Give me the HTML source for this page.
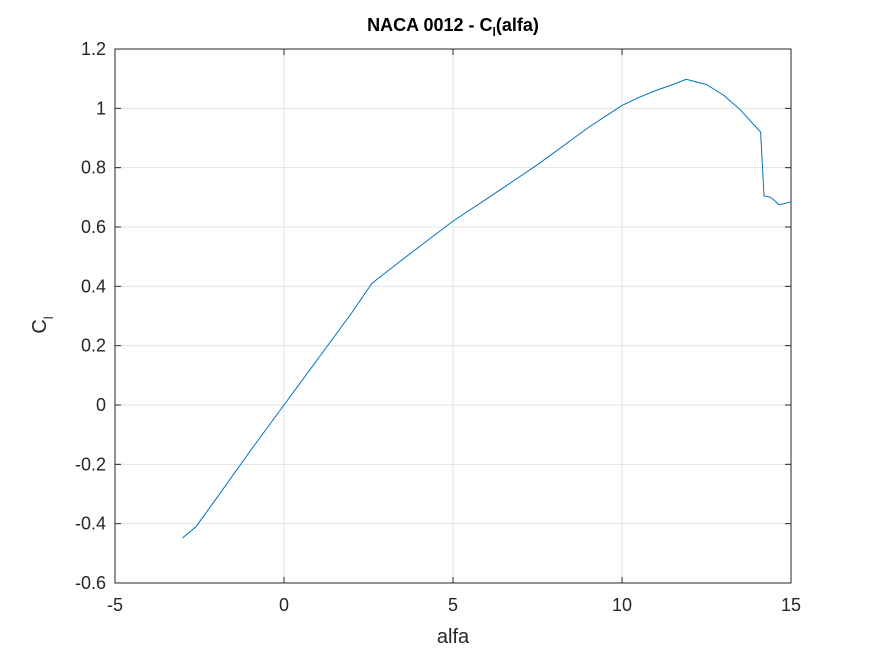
<!DOCTYPE html>
<html><head><meta charset="utf-8"><style>
body{margin:0;background:#fff;font-family:"Liberation Sans",Arial,sans-serif}
svg text{font-family:"Liberation Sans",Arial,sans-serif}
</style></head><body>
<svg id="chart" width="875" height="656" xmlns="http://www.w3.org/2000/svg">
<rect width="875" height="656" fill="#fff"/>
<g id="grid"></g>
<g id="axes"></g>
<path id="line" fill="none" stroke="#0072BD" stroke-width="1"/>
<text x="453" y="31" text-anchor="middle" font-size="18" font-weight="bold">NACA 0012 - C<tspan font-size="12" dy="5">l</tspan><tspan dy="-5">(alfa)</tspan></text>
<text x="453" y="643" text-anchor="middle" font-size="20" fill="#262626">alfa</text>
<text transform="translate(46,325) rotate(-90)" text-anchor="middle" font-size="20" fill="#262626">C<tspan font-size="13" dy="7">l</tspan></text>
</svg>
<script>
const alfa=[-3,-2.6,-2,-1,0,1,2,2.6,3.5,5,6,7.5,9,10,10.5,11,11.5,11.9,12.5,13,13.5,14.1,14.2,14.4,14.65,15];
const cl=[-0.448,-0.41,-0.315,-0.155,0,0.155,0.31,0.41,0.49,0.62,0.695,0.81,0.935,1.01,1.037,1.06,1.08,1.098,1.08,1.045,0.995,0.92,0.705,0.70,0.675,0.685];
const xTicks=[-5,0,5,10,15];
const yTicks=[-0.6,-0.4,-0.2,0,0.2,0.4,0.6,0.8,1,1.2];
const X0=115,X1=791,Y0=583,Y1=49;
function sx(v){return X0+(v+5)/20*(X1-X0);}
function sy(v){return Y0-(v+0.6)/1.8*(Y0-Y1);}
const NS="http://www.w3.org/2000/svg";
const grid=document.getElementById('grid'),axes=document.getElementById('axes');
function mk(tag,attrs,parent){const e=document.createElementNS(NS,tag);for(const k in attrs)e.setAttribute(k,attrs[k]);parent.appendChild(e);return e;}
xTicks.forEach(t=>{const x=sx(t);
 const g=mk('line',{x1:x,x2:x,y1:Y1,y2:Y0,stroke:'#e3e3e3'},grid);
 
 
 mk('line',{x1:x,x2:x,y1:Y0,y2:Y0-6,stroke:'#262626'},axes);
 mk('line',{x1:x,x2:x,y1:Y1,y2:Y1+6,stroke:'#262626'},axes);
 const l=mk('text',{x:x,y:Y0+28,'text-anchor':'middle','font-size':'18',fill:'#262626'},axes);
 l.textContent=t;
 
 
});
yTicks.forEach(t=>{const y=sy(t);
 const g=mk('line',{x1:X0,x2:X1,y1:y,y2:y,stroke:'#e3e3e3'},grid);
 
 
 mk('line',{x1:X0,x2:X0+6,y1:y,y2:y,stroke:'#262626'},axes);
 mk('line',{x1:X1,x2:X1-6,y1:y,y2:y,stroke:'#262626'},axes);
 const l=mk('text',{x:X0-9,y:y+6,'text-anchor':'end','font-size':'18',fill:'#262626'},axes);
 l.textContent=(Math.round(t*10)/10).toString();
 
 
});
const box=mk('rect',{x:X0,y:Y1,width:X1-X0,height:Y0-Y1,fill:'none',stroke:'#262626'},axes);


document.getElementById('line').setAttribute('d',alfa.map((a,i)=>(i?'L':'M')+sx(a).toFixed(1)+','+sy(cl[i]).toFixed(1)).join(''));
</script>
</body></html>
